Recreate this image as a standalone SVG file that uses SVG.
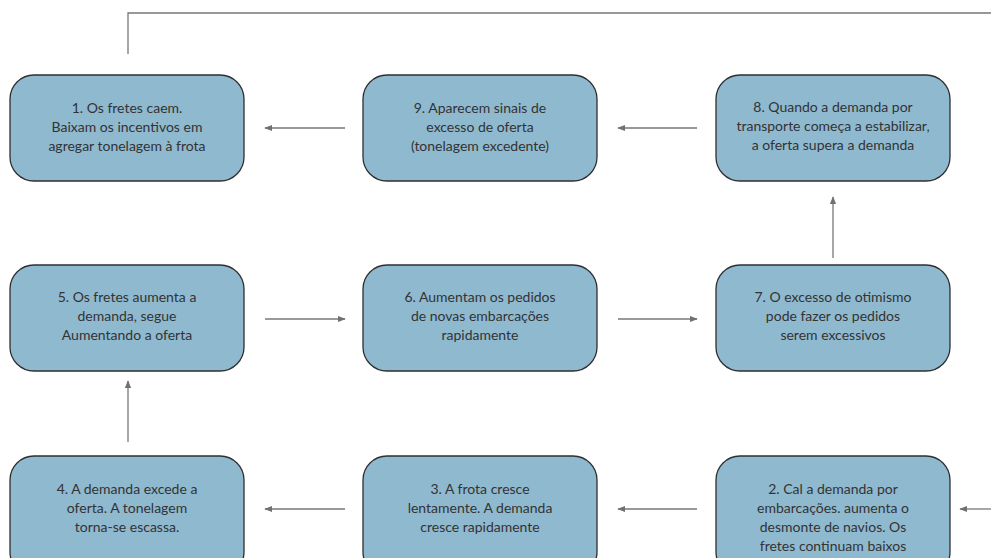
<svg xmlns="http://www.w3.org/2000/svg" width="991" height="558" viewBox="0 0 991 558">
<defs>
<marker id="ah" viewBox="0 0 10 10" refX="9" refY="5" markerWidth="8" markerHeight="8" markerUnits="userSpaceOnUse" orient="auto">
<path d="M0,1 L10,5 L0,9 Z" fill="#707070"/>
</marker>
<style>
.box{fill:#8fb9cf;stroke:#2f2f2f;stroke-width:1.3}
.t{font-family:"Lato","Liberation Sans",sans-serif;font-size:14px;fill:#333;text-anchor:middle}
.c{stroke:#777;stroke-width:1.3;fill:none}
.a{stroke:#777;stroke-width:1.3;fill:none;marker-end:url(#ah)}
</style>
</defs>
<rect width="991" height="558" fill="#fff"/>
<g id="connectors">
<path class="c" d="M128,54 V13 H991"/>
<line class="a" x1="345" y1="128" x2="265" y2="128"/>
<line class="a" x1="697" y1="128" x2="618" y2="128"/>
<line class="a" x1="265" y1="319" x2="345" y2="319"/>
<line class="a" x1="618" y1="319" x2="697" y2="319"/>
<line class="a" x1="833" y1="258" x2="833" y2="197"/>
<line class="a" x1="128" y1="442" x2="128" y2="381"/>
<line class="a" x1="991" y1="509" x2="960" y2="509"/>
<line class="a" x1="697" y1="509" x2="618" y2="509"/>
<line class="a" x1="345" y1="509" x2="265" y2="509"/>
</g>
<g id="n1"><rect class="box" x="10" y="75" width="234" height="106" rx="24"/>
<text class="t"><tspan x="127" y="113">1. Os fretes caem.</tspan><tspan x="127" y="132">Baixam os incentivos em</tspan><tspan x="127" y="151">agregar tonelagem à frota</tspan></text></g>
<g id="n9"><rect class="box" x="363" y="75" width="234" height="106" rx="24"/>
<text class="t"><tspan x="480" y="113">9. Aparecem sinais de</tspan><tspan x="480" y="132">excesso de oferta</tspan><tspan x="480" y="151">(tonelagem excedente)</tspan></text></g>
<g id="n8"><rect class="box" x="716" y="75" width="234" height="106" rx="24"/>
<text class="t"><tspan x="833" y="112">8. Quando a demanda por</tspan><tspan x="833" y="131">transporte começa a estabilizar,</tspan><tspan x="833" y="150">a oferta supera a demanda</tspan></text></g>
<g id="n5"><rect class="box" x="10" y="265" width="234" height="106" rx="24"/>
<text class="t"><tspan x="127" y="302">5. Os fretes aumenta a</tspan><tspan x="127" y="321">demanda, segue</tspan><tspan x="127" y="340">Aumentando a oferta</tspan></text></g>
<g id="n6"><rect class="box" x="363" y="265" width="234" height="106" rx="24"/>
<text class="t"><tspan x="480" y="302">6. Aumentam os pedidos</tspan><tspan x="480" y="321">de novas embarcações</tspan><tspan x="480" y="340">rapidamente</tspan></text></g>
<g id="n7"><rect class="box" x="716" y="265" width="234" height="106" rx="24"/>
<text class="t"><tspan x="833" y="302">7. O excesso de otimismo</tspan><tspan x="833" y="321">pode fazer os pedidos</tspan><tspan x="833" y="340">serem excessivos</tspan></text></g>
<g id="n4"><rect class="box" x="10" y="456" width="234" height="120" rx="24"/>
<text class="t"><tspan x="127" y="494">4. A demanda excede a</tspan><tspan x="127" y="513">oferta. A tonelagem</tspan><tspan x="127" y="532">torna-se escassa.</tspan></text></g>
<g id="n3"><rect class="box" x="363" y="456" width="234" height="120" rx="24"/>
<text class="t"><tspan x="480" y="494">3. A frota cresce</tspan><tspan x="480" y="513">lentamente. A demanda</tspan><tspan x="480" y="532">cresce rapidamente</tspan></text></g>
<g id="n2"><rect class="box" x="716" y="456" width="234" height="120" rx="24"/>
<text class="t"><tspan x="833" y="494">2. Cal a demanda por</tspan><tspan x="833" y="513">embarcações. aumenta o</tspan><tspan x="833" y="532">desmonte de navios. Os</tspan><tspan x="833" y="551">fretes continuam baixos</tspan></text></g>
</svg>
